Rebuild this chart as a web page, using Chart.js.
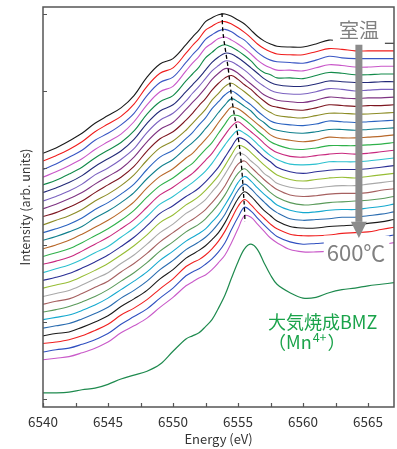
<!DOCTYPE html>
<html>
<head>
<meta charset="utf-8">
<script src="https://cdn.jsdelivr.net/npm/chart.js@4/dist/chart.umd.min.js"></script>
<style>
  html, body { margin: 0; padding: 0; background: #fff; }
  #wrap { width: 397px; height: 449px; }
</style>
</head>
<body>
<div id="wrap"><canvas id="chart" width="397" height="449"></canvas></div>
<script>
const FONT = "'Noto Sans CJK JP', 'Noto Sans', sans-serif";

// energy grid (eV), finer around the white line
const energies = [6540, 6541, 6542, 6543, 6544, 6545, 6546, 6547, 6548, 6549, 6550,
    6551, 6551.5, 6552, 6552.5, 6553, 6553.5, 6554, 6554.5, 6555, 6555.5, 6556, 6556.5, 6557, 6557.5, 6558,
    6559, 6560, 6561, 6562, 6563, 6564, 6565, 6566, 6567];

// stacked in-situ spectra, room temperature (top) -> 600 C (bottom), offset arb. units
const spectra = [
    [31.9,32.6,33.5,34.5,35.8,36.8,37.8,39.4,41.8,43.5,44.2, 46.0,47.0,47.9,49.0,49.5,49.9,50.0,49.7,49.2,48.7,47.9,47.1,46.5,46.1,45.8, 45.7,45.7,46.1,46.6,46.4,46.2,46.2,46.2,46.2],
    [30.9,31.6,32.4,33.4,34.7,35.7,36.7,38.3,40.6,42.3,43.0, 44.9,45.9,46.8,47.9,48.4,48.9,49.0,48.7,48.2,47.6,46.9,46.1,45.5,45.1,44.8, 44.7,44.7,45.1,45.5,45.4,45.2,45.2,45.2,45.2],
    [29.8,30.5,31.4,32.3,33.6,34.5,35.6,37.1,39.4,41.1,41.8, 43.7,44.7,45.6,46.7,47.3,47.8,48.0,47.7,47.1,46.6,45.8,45.0,44.4,44.0,43.8, 43.7,43.6,44.0,44.5,44.3,44.2,44.2,44.2,44.2],
    [28.8,29.5,30.3,31.2,32.4,33.4,34.4,36.0,38.2,39.9,40.6, 42.6,43.6,44.5,45.6,46.2,46.8,47.0,46.6,46.1,45.5,44.8,44.0,43.4,43.0,42.7, 42.7,42.6,43.0,43.4,43.3,43.1,43.1,43.2,43.2],
    [27.8,28.4,29.2,30.1,31.3,32.3,33.3,34.8,37.0,38.6,39.4, 41.3,42.2,43.1,44.3,45.0,45.7,46.0,45.7,45.2,44.6,43.9,43.0,42.4,42.1,41.7, 41.7,41.6,42.0,42.4,42.3,42.1,42.1,42.2,42.2],
    [26.8,27.4,28.1,29.0,30.2,31.2,32.2,33.7,35.8,37.4,38.2, 39.9,40.8,41.7,42.7,43.7,44.4,44.9,44.8,44.3,43.7,43.0,42.3,41.6,41.1,40.8, 40.6,40.6,40.9,41.3,41.2,41.1,41.1,41.2,41.2],
    [25.7,26.3,27.0,27.9,29.1,30.0,31.1,32.5,34.6,36.2,37.1, 38.7,39.7,40.6,41.6,42.6,43.3,43.9,43.8,43.3,42.7,42.0,41.2,40.6,40.1,39.8, 39.6,39.6,39.9,40.3,40.2,40.0,40.1,40.2,40.2],
    [24.7,25.3,26.0,26.8,27.9,28.9,29.9,31.4,33.4,35.0,35.9, 37.6,38.5,39.4,40.4,41.5,42.3,42.9,42.8,42.3,41.6,40.9,40.2,39.5,39.1,38.8, 38.6,38.5,38.8,39.2,39.1,39.0,39.1,39.1,39.2],
    [23.7,24.2,24.9,25.7,26.8,27.8,28.8,30.2,32.2,33.8,34.7, 36.2,37.1,38.1,39.0,40.1,41.0,41.7,42.0,41.5,40.8,40.2,39.4,38.7,38.1,37.9, 37.6,37.5,37.8,38.2,38.1,38.0,38.1,38.1,38.2],
    [22.6,23.2,23.8,24.6,25.7,26.6,27.7,29.1,31.0,32.6,33.5, 34.9,35.8,36.7,37.6,38.8,39.7,40.6,41.0,40.5,39.9,39.2,38.5,37.7,37.2,36.8, 36.6,36.5,36.8,37.1,37.1,37.0,37.0,37.1,37.2],
    [21.6,22.1,22.7,23.5,24.6,25.5,26.6,27.9,29.8,31.4,32.3, 33.8,34.6,35.6,36.5,37.7,38.6,39.5,40.0,39.5,38.8,38.2,37.4,36.7,36.1,35.8, 35.6,35.5,35.7,36.1,36.0,35.9,36.0,36.1,36.2],
    [20.6,21.1,21.7,22.4,23.5,24.4,25.5,26.8,28.6,30.1,31.1, 32.6,33.3,34.1,35.1,36.1,37.2,38.2,39.0,38.6,38.0,37.4,36.5,35.9,35.2,34.9, 34.6,34.5,34.7,35.0,35.0,34.9,35.0,35.1,35.2],
    [19.5,20.0,20.6,21.4,22.3,23.2,24.3,25.6,27.4,28.9,29.9, 31.3,31.9,32.8,33.7,34.7,35.9,37.0,37.9,37.7,37.1,36.4,35.7,35.0,34.3,33.9, 33.6,33.4,33.6,34.0,33.9,33.9,34.0,34.1,34.3],
    [18.5,19.0,19.5,20.3,21.2,22.1,23.2,24.5,26.2,27.7,28.7, 30.0,30.6,31.5,32.4,33.3,34.5,35.7,36.8,36.8,36.3,35.6,34.8,34.1,33.4,33.0, 32.5,32.4,32.6,32.9,32.9,32.9,33.0,33.1,33.3],
    [17.5,17.9,18.4,19.2,20.1,21.0,22.1,23.3,24.9,26.5,27.5, 28.7,29.3,30.1,31.0,31.9,33.1,34.3,35.4,36.0,35.4,34.7,34.0,33.2,32.5,32.0, 31.5,31.4,31.6,31.8,31.9,31.8,31.9,32.1,32.3],
    [16.4,16.9,17.4,18.1,19.0,19.8,21.0,22.2,23.7,25.3,26.3, 27.5,28.1,28.8,29.6,30.6,31.8,33.0,34.1,34.9,34.5,33.9,33.1,32.3,31.6,31.1, 30.5,30.4,30.5,30.8,30.8,30.8,30.9,31.1,31.3],
    [15.4,15.8,16.3,17.0,17.8,18.7,19.8,21.0,22.5,24.1,25.1, 26.3,26.8,27.4,28.2,29.1,30.1,31.4,32.7,33.9,33.7,33.0,32.2,31.4,30.8,30.1, 29.5,29.3,29.5,29.7,29.8,29.8,29.9,30.1,30.3],
    [14.4,14.8,15.2,15.9,16.7,17.6,18.7,19.9,21.3,22.9,23.9, 25.2,25.7,26.3,27.1,28.0,29.0,30.3,31.7,32.9,32.7,32.0,31.2,30.4,29.7,29.1, 28.5,28.3,28.5,28.7,28.8,28.7,28.9,29.1,29.3],
    [13.3,13.7,14.1,14.8,15.6,16.4,17.6,18.7,20.1,21.6,22.7, 24.1,24.6,25.2,25.9,26.9,27.9,29.2,30.6,31.9,31.7,30.9,30.2,29.3,28.7,28.0, 27.5,27.3,27.4,27.6,27.7,27.7,27.9,28.1,28.3],
    [12.3,12.7,13.0,13.7,14.5,15.3,16.5,17.6,18.9,20.4,21.6, 22.8,23.3,23.9,24.6,25.5,26.5,27.7,29.2,30.5,30.9,30.1,29.3,28.5,27.8,27.2, 26.5,26.3,26.4,26.6,26.7,26.7,26.8,27.1,27.3],
    [11.3,11.6,12.0,12.6,13.3,14.2,15.3,16.4,17.7,19.2,20.4, 21.7,22.2,22.7,23.4,24.3,25.3,26.5,28.0,29.3,29.9,29.2,28.4,27.6,26.8,26.2, 25.5,25.2,25.3,25.5,25.6,25.7,25.8,26.0,26.3],
    [10.3,10.6,10.9,11.5,12.2,13.1,14.2,15.3,16.5,18.0,19.2, 20.5,21.0,21.5,22.1,23.0,23.9,25.2,26.6,28.1,28.9,28.3,27.4,26.6,25.9,25.2, 24.5,24.2,24.3,24.5,24.6,24.6,24.8,25.0,25.3],
    [9.2,9.5,9.8,10.4,11.1,11.9,13.1,14.1,15.3,16.8,18.0, 19.4,19.9,20.4,21.0,21.8,22.8,24.0,25.6,27.1,27.9,27.3,26.4,25.6,24.8,24.2, 23.4,23.2,23.3,23.4,23.6,23.6,23.8,24.0,24.3],
    [8.2,8.5,8.7,9.3,10.0,10.8,12.0,13.0,14.1,15.6,16.8, 18.3,18.8,19.3,19.9,20.7,21.6,22.9,24.5,26.0,26.9,26.3,25.4,24.5,23.8,23.1, 22.4,22.2,22.2,22.4,22.5,22.6,22.8,23.0,23.3],
    [7.2,7.4,7.7,8.2,8.9,9.7,10.9,11.8,12.9,14.3,15.6, 17.2,17.7,18.1,18.7,19.5,20.5,21.8,23.4,25.0,25.9,25.2,24.3,23.5,22.7,22.1, 21.4,21.2,21.2,21.3,21.5,21.6,21.7,22.0,22.3],
    [6.1,6.4,6.6,7.1,7.7,8.5,9.7,10.7,11.7,13.1,14.4, 16.0,16.5,16.9,17.5,18.2,19.1,20.3,22.0,23.6,24.9,24.4,23.5,22.6,21.8,21.1, 20.4,20.1,20.2,20.3,20.5,20.5,20.7,21.0,21.3],
    [5.1,5.3,5.5,6.0,6.6,7.4,8.6,9.5,10.5,11.9,13.2, 14.7,15.2,15.7,16.1,16.8,17.7,18.7,20.3,22.1,23.8,23.6,22.7,21.8,20.9,20.3, 19.4,19.1,19.1,19.2,19.4,19.5,19.7,20.0,20.3]
];

// air-calcined BMZ reference (Mn4+)
const bmzSpectrum = [0.8,0.8,0.9,1.2,1.4,1.9,2.6,3.1,3.6,4.5,6.2, 7.8,8.2,8.6,9.4,10.3,11.8,13.5,15.7,17.8,19.5,20.1,19.4,17.7,16.1,14.9, 13.8,13.1,13.2,13.8,14.2,14.4,14.7,14.9,15.1];

// peak shift guide (dashed)
const peakEnergy = [6553.77, 6553.85, 6554.23, 6554.54, 6555.15, 6555.46, 6555.54];
const peakIntensity = [50.1, 47.5, 43.1, 38.8, 32.3, 25.8, 23.0];

const lineColors = [
    '#1a1a1a', '#f01c1c', '#3a56c4', '#c957c9', '#128a4a', '#232a78', '#7b62c0', '#7e3382', '#7d1620',
    '#8c8c26', '#2b63c0', '#0f7f8c', '#b8682a', '#2fb14a', '#c8287e', '#2cc0cf', '#2b2f95', '#97bd35',
    '#a9a9a9', '#a66060', '#5a9a5a', '#15a9cf', '#2a6cb0', '#1a1a1a', '#f02020', '#3050c0', '#c95ac9'
];

// annotation anchors (data units)
const arrowAt = { x: 6564.3, top: 46.0, neck: 23.0, tip: 20.9 };

function toPoints(xs, ys) {
    return xs.map((x, i) => ({ x: x, y: ys[i] }));
}

let datasets = [];
datasets.push({
    data: toPoints(peakEnergy, peakIntensity),
    borderColor: '#000', borderWidth: 1.3, borderDash: [4, 3], pointRadius: 0, tension: 0.3
});
spectra.forEach((s, i) => {
    datasets.push({
        data: toPoints(energies, s),
        borderColor: lineColors[i], borderWidth: 1.1, pointRadius: 0, tension: 0.35
    });
});
datasets.push({
    data: toPoints(energies, bmzSpectrum),
    borderColor: '#1e8a4e', borderWidth: 1.2, pointRadius: 0, tension: 0.35
});

const decorations = {
    id: 'decorations',
    afterDatasetsDraw(chart) {
        const ctx = chart.ctx;
        const xs = chart.scales.x, ys = chart.scales.y;
        ctx.save();
        ctx.textAlign = 'center';
        ctx.textBaseline = 'middle';

        // room temperature label
        ctx.font = '20px ' + FONT;
        let cx = xs.getPixelForValue(6564.3), cy = ys.getPixelForValue(47.9);
        let w = ctx.measureText('室温').width;
        ctx.fillStyle = '#fff';
        ctx.fillRect(cx - w / 2 - 6, cy - 12, w + 12, 28);
        ctx.fillStyle = '#808080';
        ctx.fillText('室温', cx, cy);

        // 600 C label
        ctx.font = '22px ' + FONT;
        let cx2 = xs.getPixelForValue(6564.08), cy2 = ys.getPixelForValue(19.0);
        let w2 = ctx.measureText('600℃').width;
        ctx.fillStyle = '#fff';
        ctx.fillRect(cx2 - w2 / 2 - 3, cy2 - 17, w2 + 7, 32);
        ctx.fillStyle = '#808080';
        ctx.fillText('600℃', cx2, cy2);

        // arrow
        const ax = xs.getPixelForValue(arrowAt.x);
        const aTop = ys.getPixelForValue(arrowAt.top);
        const aNeck = ys.getPixelForValue(arrowAt.neck);
        const aTip = ys.getPixelForValue(arrowAt.tip);
        ctx.fillStyle = '#8c8c8c';
        ctx.fillRect(ax - 3.5, aTop, 7, aNeck - aTop);
        ctx.beginPath();
        ctx.moveTo(ax - 8, aNeck);
        ctx.lineTo(ax + 8, aNeck);
        ctx.lineTo(ax, aTip);
        ctx.closePath();
        ctx.fill();

        // reference label
        ctx.textAlign = 'left';
        ctx.fillStyle = '#1aa34a';
        ctx.font = '18px ' + FONT;
        let lx = xs.getPixelForValue(6557.31);
        ctx.fillText('大気焼成BMZ', lx, ys.getPixelForValue(10.0));
        let ly = ys.getPixelForValue(7.4);
        ctx.fillText('（Mn', lx, ly);
        let w3 = ctx.measureText('（Mn').width;
        ctx.font = '12.5px ' + FONT;
        ctx.fillText('4+', lx + w3 + 1, ly - 5);
        let w4 = ctx.measureText('4+').width;
        ctx.font = '18px ' + FONT;
        ctx.fillText('）', lx + w3 + w4 + 2, ly);
        ctx.restore();
    },
    afterDraw(chart) {
        const ctx = chart.ctx;
        const a = chart.chartArea;
        const xs = chart.scales.x, ys = chart.scales.y;
        ctx.save();
        ctx.strokeStyle = '#555';
        ctx.lineWidth = 1.2;
        ctx.beginPath();
        xs.ticks.forEach(t => {
            const p = Math.round(xs.getPixelForValue(t.value)) + 0.5;
            ctx.moveTo(p, a.bottom);
            ctx.lineTo(p, a.bottom - 4);
        });
        ys.ticks.forEach(t => {
            const p = Math.round(ys.getPixelForValue(t.value)) + 0.5;
            ctx.moveTo(a.left, p);
            ctx.lineTo(a.left + 4, p);
        });
        ctx.stroke();
        ctx.lineWidth = 1.5;
        ctx.strokeRect(a.left, a.top, a.right - a.left, a.bottom - a.top);
        ctx.restore();
    }
};

Chart.defaults.font.family = FONT;

let chart = new Chart(document.getElementById('chart').getContext('2d'), {
    type: 'line',
    data: { datasets: datasets },
    options: {
        responsive: false,
        devicePixelRatio: 1,
        animation: false,
        events: [],
        layout: { padding: { top: 7, right: 3, left: 0, bottom: 0 } },
        plugins: { legend: { display: false }, tooltip: { enabled: false } },
        scales: {
            x: {
                type: 'linear', min: 6540, max: 6567,
                grid: { display: false, drawTicks: false },
                border: { display: false },
                ticks: {
                    stepSize: 2.5, includeBounds: false, autoSkip: false, maxRotation: 0,
                    padding: 7, color: '#333', font: { size: 13.5 },
                    callback: v => (v % 5 === 0 ? String(v) : '')
                },
                title: { display: true, text: 'Energy (eV)', color: '#333', font: { size: 13 }, padding: { top: 0, bottom: 2 } },
                afterFit: s => { s.height = 42; }
            },
            y: {
                type: 'linear', min: -1.04, max: 50.9,
                grid: { display: false, drawTicks: false },
                border: { display: false },
                ticks: { display: false, stepSize: 10, includeBounds: false },
                title: { display: true, text: 'Intensity (arb. units)', color: '#333', font: { size: 12.5 }, padding: { top: 18 } },
                afterFit: s => { s.width = 43; }
            }
        }
    },
    plugins: [decorations]
});
</script>
</body>
</html>
